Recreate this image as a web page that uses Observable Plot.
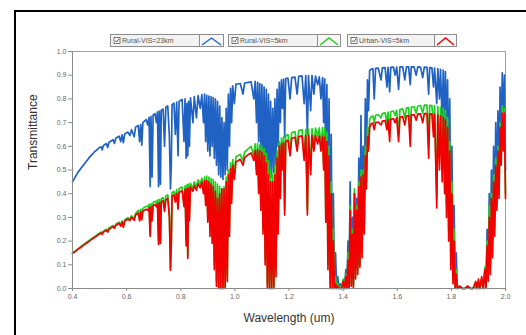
<!DOCTYPE html>
<html><head><meta charset="utf-8">
<script src="https://cdn.jsdelivr.net/npm/d3@7"></script>
<script src="https://cdn.jsdelivr.net/npm/@observablehq/plot@0.6"></script>
<style>
body{margin:0;background:#fff;width:526px;height:335px;overflow:hidden;position:relative;font-family:"Liberation Sans",Arial,sans-serif}
#frame{position:absolute;left:14px;top:10px;width:540px;height:350px;border:2px solid #000;box-sizing:border-box}
#chart{position:absolute;left:0;top:0}
.lg{position:absolute;top:34px;height:13px;box-sizing:border-box;border:1px solid #8c8c8c;background:#f3f3f3;font-size:7px;line-height:11px;color:#555;white-space:nowrap;overflow:hidden}
.lg svg{vertical-align:top}
</style></head><body>
<div id="frame"></div>
<div id="chart"></div>
<div id="legend"></div>
<script>
const seriesNames = ["Rural-VIS=23km", "Rural-VIS=5km", "Urban-VIS=5km"];
const seriesColors = ["#1f62c4", "#1fd01f", "#f20000"];
const xTicks = [0.4, 0.6, 0.8, 1, 1.2, 1.4, 1.6, 1.8, 2];
const yTicks = [0, 0.1, 0.2, 0.3, 0.4, 0.5, 0.6, 0.7, 0.8, 0.9, 1];

const wavelength = [
0.400,0.410,0.420,0.430,0.440,0.450,0.460,0.470,0.480,0.490,
0.500,0.506,0.510,0.514,0.525,0.530,0.535,0.550,0.555,0.560,
0.572,0.578,0.583,0.588,0.593,0.605,0.612,0.618,0.628,0.633,
0.643,0.648,0.652,0.656,0.660,0.672,0.678,0.683,0.687,0.690,
0.694,0.698,0.705,0.710,0.714,0.718,0.721,0.725,0.728,0.735,
0.740,0.745,0.752,0.758,0.762,0.765,0.768,0.775,0.780,0.785,
0.790,0.794,0.805,0.812,0.816,0.820,0.823,0.826,0.829,0.832,
0.836,0.845,0.850,0.858,0.864,0.872,0.878,0.884,0.888,0.892,
0.896,0.900,0.904,0.908,0.912,0.916,0.920,0.924,0.928,0.932,
0.936,0.940,0.944,0.948,0.952,0.956,0.960,0.964,0.968,0.972,
0.976,0.980,0.984,0.988,0.992,0.998,1.004,1.010,1.020,1.030,
1.036,1.050,1.060,1.070,1.075,1.080,1.084,1.088,1.092,1.096,
1.100,1.104,1.108,1.112,1.116,1.120,1.124,1.128,1.132,1.136,
1.140,1.144,1.148,1.152,1.156,1.160,1.164,1.168,1.172,1.176,
1.180,1.184,1.188,1.196,1.204,1.210,1.222,1.230,1.236,1.248,
1.256,1.262,1.268,1.272,1.280,1.285,1.292,1.298,1.306,1.312,
1.318,1.324,1.328,1.332,1.336,1.340,1.344,1.348,1.352,1.356,
1.360,1.364,1.368,1.372,1.376,1.380,1.385,1.390,1.395,1.400,
1.405,1.410,1.414,1.418,1.422,1.426,1.430,1.434,1.438,1.442,
1.446,1.450,1.454,1.458,1.462,1.466,1.470,1.474,1.478,1.482,
1.486,1.490,1.494,1.498,1.504,1.510,1.515,1.520,1.530,1.540,
1.545,1.555,1.562,1.566,1.572,1.576,1.586,1.592,1.598,1.605,
1.610,1.620,1.628,1.634,1.642,1.648,1.652,1.662,1.670,1.676,
1.686,1.694,1.700,1.710,1.716,1.720,1.728,1.734,1.738,1.746,
1.750,1.756,1.760,1.766,1.770,1.775,1.778,1.782,1.786,1.790,
1.794,1.798,1.802,1.806,1.810,1.814,1.818,1.822,1.830,1.840,
1.850,1.860,1.870,1.880,1.890,1.895,1.900,1.905,1.912,1.918,
1.924,1.928,1.932,1.936,1.940,1.944,1.948,1.952,1.956,1.960,
1.964,1.968,1.972,1.976,1.980,1.984,1.988,1.992,1.996,2.000];

const rural23 = [
.450,.470,.490,.505,.520,.535,.550,.563,.575,.585,
.595,.598,.585,.603,.612,.595,.617,.628,.612,.634,
.643,.620,.648,.615,.652,.660,.645,.670,.640,.681,
.688,.620,.692,.605,.700,.713,.690,.722,.430,.726,
.470,.732,.738,.700,.745,.430,.748,.440,.752,.757,
.600,.765,.770,.640,.420,.520,.776,.782,.650,.786,
.560,.790,.798,.620,.800,.550,.780,.560,.790,.600,
.804,.700,.810,.720,.814,.760,.818,.700,.820,.620,
.815,.580,.812,.560,.810,.600,.805,.550,.800,.520,
.790,.480,.770,.470,.720,.460,.700,.480,.760,.500,
.820,.600,.845,.700,.855,.780,.862,.863,.865,.820,
.867,.870,.872,.800,.874,.700,.870,.620,.865,.580,
.860,.540,.850,.510,.840,.480,.820,.470,.790,.470,
.760,.490,.800,.520,.840,.600,.870,.700,.880,.760,
.884,.640,.886,.888,.800,.890,.892,.820,.895,.897,
.780,.898,.650,.898,.750,.898,.820,.896,.860,.893,
.800,.890,.700,.885,.500,.860,.300,.800,.150,.650,
.050,.400,.000,.150,.000,.050,.000,.020,.000,.030,
.000,.080,.000,.200,.010,.450,.050,.300,.020,.400,
.080,.380,.100,.550,.150,.730,.200,.600,.300,.800,
.500,.880,.750,.920,.925,.928,.800,.929,.930,.880,
.931,.932,.850,.933,.830,.933,.934,.900,.934,.840,
.935,.935,.880,.935,.935,.860,.935,.935,.900,.935,
.934,.890,.934,.933,.820,.932,.931,.850,.930,.780,
.928,.800,.925,.700,.922,.650,.915,.600,.880,.450,
.800,.250,.600,.100,.350,.020,.150,.000,.010,.000,
.000,.005,.000,.000,.010,.000,.020,.000,.030,.000,
.080,.010,.250,.050,.400,.100,.500,.200,.600,.300,
.700,.400,.750,.450,.850,.600,.910,.700,.900,.500];

const rural5 = [
.150,.158,.167,.176,.185,.193,.202,.210,.218,.226,
.234,.238,.232,.242,.250,.242,.255,.266,.258,.271,
.280,.267,.285,.264,.290,.299,.292,.307,.294,.316,
.330,.295,.334,.300,.338,.347,.345,.355,.230,.358,
.300,.363,.368,.360,.373,.200,.376,.205,.379,.384,
.340,.390,.395,.320,.085,.200,.405,.410,.380,.417,
.350,.422,.428,.360,.433,.200,.437,.140,.440,.300,
.444,.420,.450,.430,.458,.440,.465,.420,.470,.380,
.474,.300,.470,.250,.465,.220,.460,.100,.450,.030,
.440,.000,.430,.000,.420,.000,.430,.010,.470,.050,
.500,.250,.530,.380,.545,.480,.555,.560,.565,.540,
.575,.590,.600,.560,.610,.500,.612,.420,.605,.350,
.600,.250,.590,.120,.570,.020,.540,.000,.500,.000,
.480,.010,.520,.080,.580,.250,.620,.400,.635,.520,
.640,.330,.645,.650,.580,.658,.662,.600,.666,.670,
.560,.672,.330,.673,.500,.675,.600,.677,.640,.678,
.600,.679,.520,.678,.300,.660,.100,.600,.020,.450,
.000,.250,.000,.050,.000,.020,.000,.010,.000,.040,
.000,.060,.000,.150,.000,.350,.020,.250,.010,.420,
.050,.350,.080,.450,.100,.500,.150,.500,.250,.600,
.450,.680,.600,.715,.725,.728,.700,.731,.733,.720,
.738,.741,.700,.744,.660,.746,.749,.730,.752,.650,
.755,.758,.720,.761,.763,.640,.765,.767,.740,.770,
.772,.740,.774,.774,.600,.773,.772,.680,.771,.380,
.768,.560,.764,.500,.760,.450,.752,.350,.720,.250,
.620,.100,.450,.030,.250,.000,.080,.000,.010,.000,
.000,.010,.000,.000,.020,.000,.030,.000,.040,.000,
.090,.010,.200,.040,.350,.080,.400,.150,.480,.250,
.550,.350,.600,.400,.700,.550,.770,.600,.760,.400];

const urban5 = [
.148,.156,.165,.173,.182,.190,.198,.206,.214,.222,
.230,.234,.228,.238,.246,.238,.250,.261,.254,.266,
.275,.263,.280,.258,.285,.293,.287,.301,.288,.310,
.318,.285,.322,.290,.326,.334,.330,.341,.220,.344,
.285,.350,.354,.345,.358,.185,.361,.190,.365,.370,
.325,.375,.380,.300,.077,.185,.390,.395,.365,.400,
.335,.405,.412,.345,.418,.180,.420,.127,.424,.285,
.428,.410,.434,.415,.442,.425,.449,.400,.454,.350,
.455,.280,.450,.220,.440,.190,.430,.080,.410,.010,
.380,.000,.400,.000,.420,.000,.420,.000,.450,.030,
.480,.220,.505,.360,.520,.460,.535,.538,.545,.520,
.552,.565,.572,.540,.582,.480,.585,.400,.580,.330,
.575,.230,.560,.100,.530,.000,.480,.000,.450,.000,
.450,.000,.480,.050,.550,.230,.600,.380,.610,.500,
.615,.310,.620,.626,.560,.634,.638,.580,.641,.644,
.540,.645,.310,.646,.480,.646,.580,.645,.610,.643,
.580,.641,.500,.638,.280,.620,.080,.560,.000,.400,
.000,.200,.000,.020,.000,.010,.000,.000,.000,.030,
.000,.050,.000,.120,.000,.330,.010,.230,.000,.400,
.040,.330,.060,.430,.090,.470,.130,.480,.230,.560,
.420,.640,.580,.680,.695,.698,.670,.700,.702,.690,
.706,.709,.670,.712,.620,.714,.717,.700,.720,.620,
.723,.725,.690,.728,.730,.600,.732,.734,.710,.736,
.737,.700,.738,.738,.550,.737,.736,.640,.735,.340,
.733,.500,.728,.450,.722,.400,.712,.300,.680,.200,
.580,.080,.400,.020,.200,.000,.060,.000,.010,.000,
.000,.010,.000,.000,.030,.000,.040,.000,.050,.000,
.080,.000,.180,.030,.300,.060,.380,.130,.450,.220,
.520,.330,.580,.380,.680,.520,.740,.580,.740,.380];

const seriesValues = [rural23, rural5, urban5];
const tables = seriesValues.map((vals, k) => {
  const n = Math.min(vals.length, wavelength.length);
  return d3.range(n).map(i => ({wl: wavelength[i], t: vals[i], series: seriesNames[k]}));
});

const axisColor = "#8a8a8a";
const chart = Plot.plot({
  width: 526, height: 335,
  marginLeft: 72, marginRight: 21, marginTop: 51, marginBottom: 47,
  style: {fontFamily: "'Liberation Sans', Arial, sans-serif", background: "transparent", overflow: "visible"},
  x: {domain: [0.4, 2]},
  y: {domain: [0, 1]},
  marks: [
    Plot.frame({stroke: "#a0a0a0"}),
    ...tables.map((tb, k) => Plot.line(tb, {x: "wl", y: "t", stroke: seriesColors[k], strokeWidth: 1.7, strokeLinejoin: "round"})),
    Plot.axisX({ticks: xTicks, tickSize: 3, tickPadding: 3, fontSize: 7, color: "#666", stroke: axisColor, label: null}),
    Plot.axisY({ticks: yTicks, tickSize: 4, tickPadding: 2, fontSize: 7, color: "#666", stroke: axisColor, label: null}),
    Plot.ruleY([0], {stroke: axisColor}),
    Plot.ruleX([0.4], {stroke: axisColor}),
    Plot.text(["Wavelength (um)"], {frameAnchor: "bottom", dy: 33, fontSize: 12, fill: "#333"}),
    Plot.text(["Transmittance"], {frameAnchor: "left", dx: -39, rotate: -90, fontSize: 12, fill: "#333"})
  ]
});
document.getElementById("chart").appendChild(chart);

// legend
const legendBoxes = [[110, 90, 25], [228, 90, 24], [347, 88, 23]];
const lg = document.getElementById("legend");
seriesNames.forEach((name, k) => {
  const [x, w, iw] = legendBoxes[k];
  const t = document.createElement("div");
  t.className = "lg";
  t.style.left = x + "px"; t.style.width = w + "px";
  t.innerHTML = `<svg width="11" height="11"><rect x="3" y="2.5" width="6" height="6" fill="#fff" stroke="#555" stroke-width="0.8"/><path d="M4.3 5.5 L5.6 7 L8 3.8" fill="none" stroke="#333" stroke-width="0.9"/></svg><span>${name}</span>`;
  lg.appendChild(t);
  const ic = document.createElement("div");
  ic.className = "lg";
  ic.style.left = (x + w - 1) + "px"; ic.style.width = iw + "px"; ic.style.background = "#f7f7f7";
  ic.innerHTML = `<svg width="${iw - 2}" height="11"><polyline points="2,10 ${(iw - 2) / 2},3 ${iw - 4},10" fill="none" stroke="${seriesColors[k]}" stroke-width="1.4"/></svg>`;
  lg.appendChild(ic);
});
</script>
</body></html>
